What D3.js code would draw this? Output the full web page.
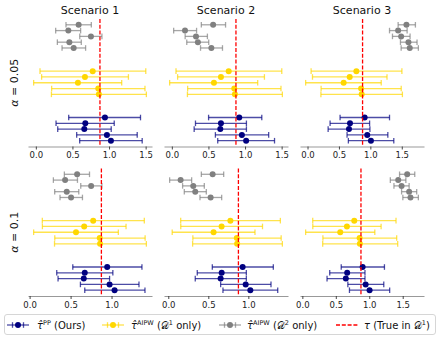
<!DOCTYPE html>
<html>
<head>
<meta charset="utf-8">
<script src="https://cdn.jsdelivr.net/npm/d3@7"></script>
<style>
body { margin: 0; background: #fff; }
svg { font-family: "DejaVu Sans", sans-serif; }
</style>
</head>
<body>
<div id="chart"></div>
<script>
"use strict";

var scenarios = ["Scenario 1", "Scenario 2", "Scenario 3"];
var alphaLabels = ["0.05", "0.1"];
var tauTrue = 0.876;
var xTicks = [0.0, 0.5, 1.0, 1.5];

// [estimate, lower, upper] for five runs, listed top to bottom, one list per scenario
var pp005 = [
	[[0.944, 0.449, 1.430], [0.676, 0.276, 1.071], [0.662, 0.299, 1.030], [0.971, 0.558, 1.385], [1.026, 0.599, 1.453]],
	[[0.921, 0.502, 1.229], [0.671, 0.323, 1.019], [0.662, 0.305, 1.019], [0.957, 0.595, 1.323], [1.015, 0.627, 1.403]],
	[[0.909, 0.518, 1.305], [0.676, 0.359, 0.988], [0.660, 0.328, 0.993], [0.951, 0.629, 1.278], [1.009, 0.650, 1.373]]
];
var aipw1005 = [
	[[0.777, 0.057, 1.502], [0.671, 0.079, 1.265], [0.575, -0.030, 1.173], [0.853, 0.216, 1.491], [0.862, 0.213, 1.510]],
	[[0.777, 0.057, 1.502], [0.671, 0.079, 1.265], [0.575, -0.030, 1.173], [0.853, 0.216, 1.491], [0.862, 0.213, 1.510]],
	[[0.777, 0.057, 1.502], [0.671, 0.079, 1.265], [0.575, -0.030, 1.173], [0.853, 0.216, 1.491], [0.862, 0.213, 1.510]]
];
var aipw2005 = [
	[[0.585, 0.412, 0.758], [0.444, 0.271, 0.612], [0.753, 0.600, 0.903], [0.458, 0.294, 0.621], [0.517, 0.358, 0.680]],
	[[0.564, 0.403, 0.734], [0.180, 0.025, 0.338], [0.330, 0.182, 0.486], [0.356, 0.204, 0.504], [0.540, 0.392, 0.692]],
	[[1.574, 1.442, 1.717], [1.442, 1.305, 1.585], [1.490, 1.352, 1.632], [1.606, 1.479, 1.743], [1.627, 1.490, 1.764]]
];
var pp010 = [
	[[0.947, 0.527, 1.371], [0.673, 0.331, 1.016], [0.661, 0.347, 0.976], [0.976, 0.620, 1.335], [1.037, 0.673, 1.408]],
	[[0.929, 0.550, 1.312], [0.667, 0.362, 0.975], [0.654, 0.337, 0.975], [0.967, 0.654, 1.283], [1.025, 0.683, 1.367]],
	[[0.901, 0.581, 1.227], [0.670, 0.409, 0.936], [0.650, 0.369, 0.936], [0.946, 0.680, 1.217], [1.005, 0.704, 1.305]]
];
var aipw1010 = [
	[[0.776, 0.155, 1.400], [0.666, 0.156, 1.177], [0.566, 0.049, 1.083], [0.856, 0.307, 1.410], [0.860, 0.304, 1.425]],
	[[0.776, 0.155, 1.400], [0.666, 0.156, 1.177], [0.566, 0.049, 1.083], [0.856, 0.307, 1.410], [0.860, 0.304, 1.425]],
	[[0.776, 0.155, 1.400], [0.666, 0.156, 1.177], [0.566, 0.049, 1.083], [0.856, 0.307, 1.410], [0.860, 0.304, 1.425]]
];
var aipw2010 = [
	[[0.580, 0.424, 0.731], [0.433, 0.290, 0.584], [0.751, 0.624, 0.882], [0.453, 0.306, 0.600], [0.506, 0.371, 0.645]],
	[[0.554, 0.413, 0.692], [0.154, 0.017, 0.292], [0.312, 0.179, 0.450], [0.337, 0.200, 0.475], [0.529, 0.396, 0.667]],
	[[1.567, 1.453, 1.680], [1.433, 1.315, 1.547], [1.483, 1.369, 1.596], [1.596, 1.483, 1.709], [1.616, 1.502, 1.734]]
];

var rows = [
	[pp005, aipw1005, aipw2005],
	[pp010, aipw1010, aipw2010]
];
var colors = ["#000080", "#ffd700", "#808080"];
var runOffsets = [0.25, 0.125, 0, -0.125, -0.25];

var width = 439, height = 340,
	panelLeft = 28, panelStep = 136, panelW = 124,
	panelTop = 19, rowStep = 149.5, panelH = 127.5,
	capHalf = 2.8, markR = 3;

var svg = d3.select("#chart")
	.append("svg")
	.attr("width", width)
	.attr("height", height)

var y = d3.scaleLinear()
	.domain([-0.25 - 0.125, 2.25 + 0.125])
	.range([panelH, 0])

rows.forEach(function(groups, r) {
	scenarios.forEach(function(name, c) {
		var vals = []
		groups.forEach(function(g) {
			g[c].forEach(function(d) { vals.push(d[1], d[2]) })
		})
		var lo = d3.min(vals), hi = d3.max(vals), pad = (hi - lo) * 0.05
		var x = d3.scaleLinear()
			.domain([lo - pad, hi + pad])
			.range([0, panelW])

		var g = svg.append("g")
			.attr("transform", "translate(" + (panelLeft + c * panelStep) + "," + (panelTop + r * rowStep) + ")")

		if (r === 0) {
			g.append("text")
				.attr("x", panelW / 2)
				.attr("y", -5.5)
				.attr("text-anchor", "middle")
				.attr("font-size", "11px")
				.attr("fill", "#111")
				.text(name)
		}

		var axis = g.append("g")
			.attr("transform", "translate(0," + panelH + ")")
			.call(d3.axisBottom(x)
				.tickValues(xTicks.filter(function(t) { return t >= x.domain()[0] && t <= x.domain()[1] }))
				.tickFormat(d3.format(".1f"))
				.tickSize(3)
				.tickSizeOuter(0)
				.tickPadding(2.5))
		axis.select(".domain").attr("stroke", "#999").attr("stroke-width", 1.2)
		axis.selectAll(".tick line").attr("stroke", "#333").attr("stroke-width", 0.9)
		axis.selectAll(".tick text")
			.attr("font-size", "8.5px")
			.attr("font-family", "DejaVu Sans, sans-serif")
			.attr("fill", "#222")

		groups.forEach(function(series, k) {
			var bars = g.append("g")
				.selectAll("g")
				.data(series[c])
				.enter()
				.append("g")
				.attr("transform", function(d, i) { return "translate(0," + y(k + runOffsets[i]) + ")" })
			bars.append("line")
				.attr("x1", function(d) { return x(d[1]) })
				.attr("x2", function(d) { return x(d[2]) })
				.attr("stroke", colors[k])
				.attr("stroke-opacity", 0.7)
				.attr("stroke-width", 1.3)
			bars.selectAll(".cap")
				.data(function(d) { return [d[1], d[2]] })
				.enter()
				.append("line")
				.attr("x1", function(v) { return x(v) })
				.attr("x2", function(v) { return x(v) })
				.attr("y1", -capHalf)
				.attr("y2", capHalf)
				.attr("stroke", colors[k])
				.attr("stroke-opacity", 0.7)
				.attr("stroke-width", 1.3)
			bars.append("circle")
				.attr("cx", function(d) { return x(d[0]) })
				.attr("r", markR)
				.attr("fill", colors[k])
		})

		g.append("line")
			.attr("x1", x(tauTrue))
			.attr("x2", x(tauTrue))
			.attr("y1", 0)
			.attr("y2", panelH)
			.attr("stroke", "red")
			.attr("stroke-width", 1.3)
			.attr("stroke-dasharray", "4,1.8")
	})

	var yl = svg.append("text")
		.attr("transform", "translate(18," + (panelTop + r * rowStep + panelH / 2) + ") rotate(-90)")
		.attr("text-anchor", "middle")
		.attr("font-size", "11px")
		.attr("fill", "#111")
	yl.append("tspan").attr("font-style", "italic").text("α")
	yl.append("tspan").text(" = " + alphaLabels[r])
})

// legend
var legend = svg.append("g")
legend.append("rect")
	.attr("x", 4.5).attr("y", 314.5)
	.attr("width", 431).attr("height", 20)
	.attr("rx", 2.5)
	.attr("fill", "#fff")
	.attr("stroke", "#ccc")
	.attr("stroke-width", 0.8)

var legendY = 325,
	handleX = [7, 102, 219, 336],
	handleLen = 22

var addLabel = function(xPos, parts) {
	var t = legend.append("text")
		.attr("x", xPos)
		.attr("y", legendY + 3.5)
		.attr("font-size", "10px")
		.attr("fill", "#111")
	parts.forEach(function(p) {
		var s = t.append("tspan").text(p.t)
		if (p.sup) s.attr("font-size", "6.5px").attr("dy", "-4")
		if (p.down) s.attr("dy", "4")
		if (p.it) s.attr("font-style", "italic")
	})
}

;[0, 1, 2].forEach(function(k) {
	var hx = handleX[k], h = legend.append("g").attr("transform", "translate(0," + legendY + ")")
	h.append("line").attr("x1", hx).attr("x2", hx + handleLen)
		.attr("stroke", colors[k]).attr("stroke-opacity", 0.7).attr("stroke-width", 1.3)
	;[hx + 5.5, hx + handleLen - 5.5].forEach(function(cx) {
		h.append("line").attr("x1", cx).attr("x2", cx).attr("y1", -capHalf).attr("y2", capHalf)
			.attr("stroke", colors[k]).attr("stroke-opacity", 0.7).attr("stroke-width", 1.3)
	})
	h.append("circle").attr("cx", hx + handleLen / 2).attr("r", markR).attr("fill", colors[k])
})
legend.append("line")
	.attr("x1", handleX[3]).attr("x2", handleX[3] + handleLen)
	.attr("y1", legendY).attr("y2", legendY)
	.attr("stroke", "red").attr("stroke-width", 1.3).attr("stroke-dasharray", "4,1.8")

addLabel(37, [{t: "τ\u0302", it: true}, {t: "PP", sup: true}, {t: " (Ours)", down: true}])
addLabel(131, [{t: "τ\u0302", it: true}, {t: "AIPW", sup: true}, {t: " (", down: true}, {t: "\uD835\uDC9F"}, {t: "1", sup: true}, {t: " only)", down: true}])
addLabel(247, [{t: "τ\u0302", it: true}, {t: "AIPW", sup: true}, {t: " (", down: true}, {t: "\uD835\uDC9F"}, {t: "2", sup: true}, {t: " only)", down: true}])
addLabel(364, [{t: "τ", it: true}, {t: " (True in "}, {t: "\uD835\uDC9F"}, {t: "1", sup: true}, {t: ")", down: true}])
</script>
</body>
</html>
